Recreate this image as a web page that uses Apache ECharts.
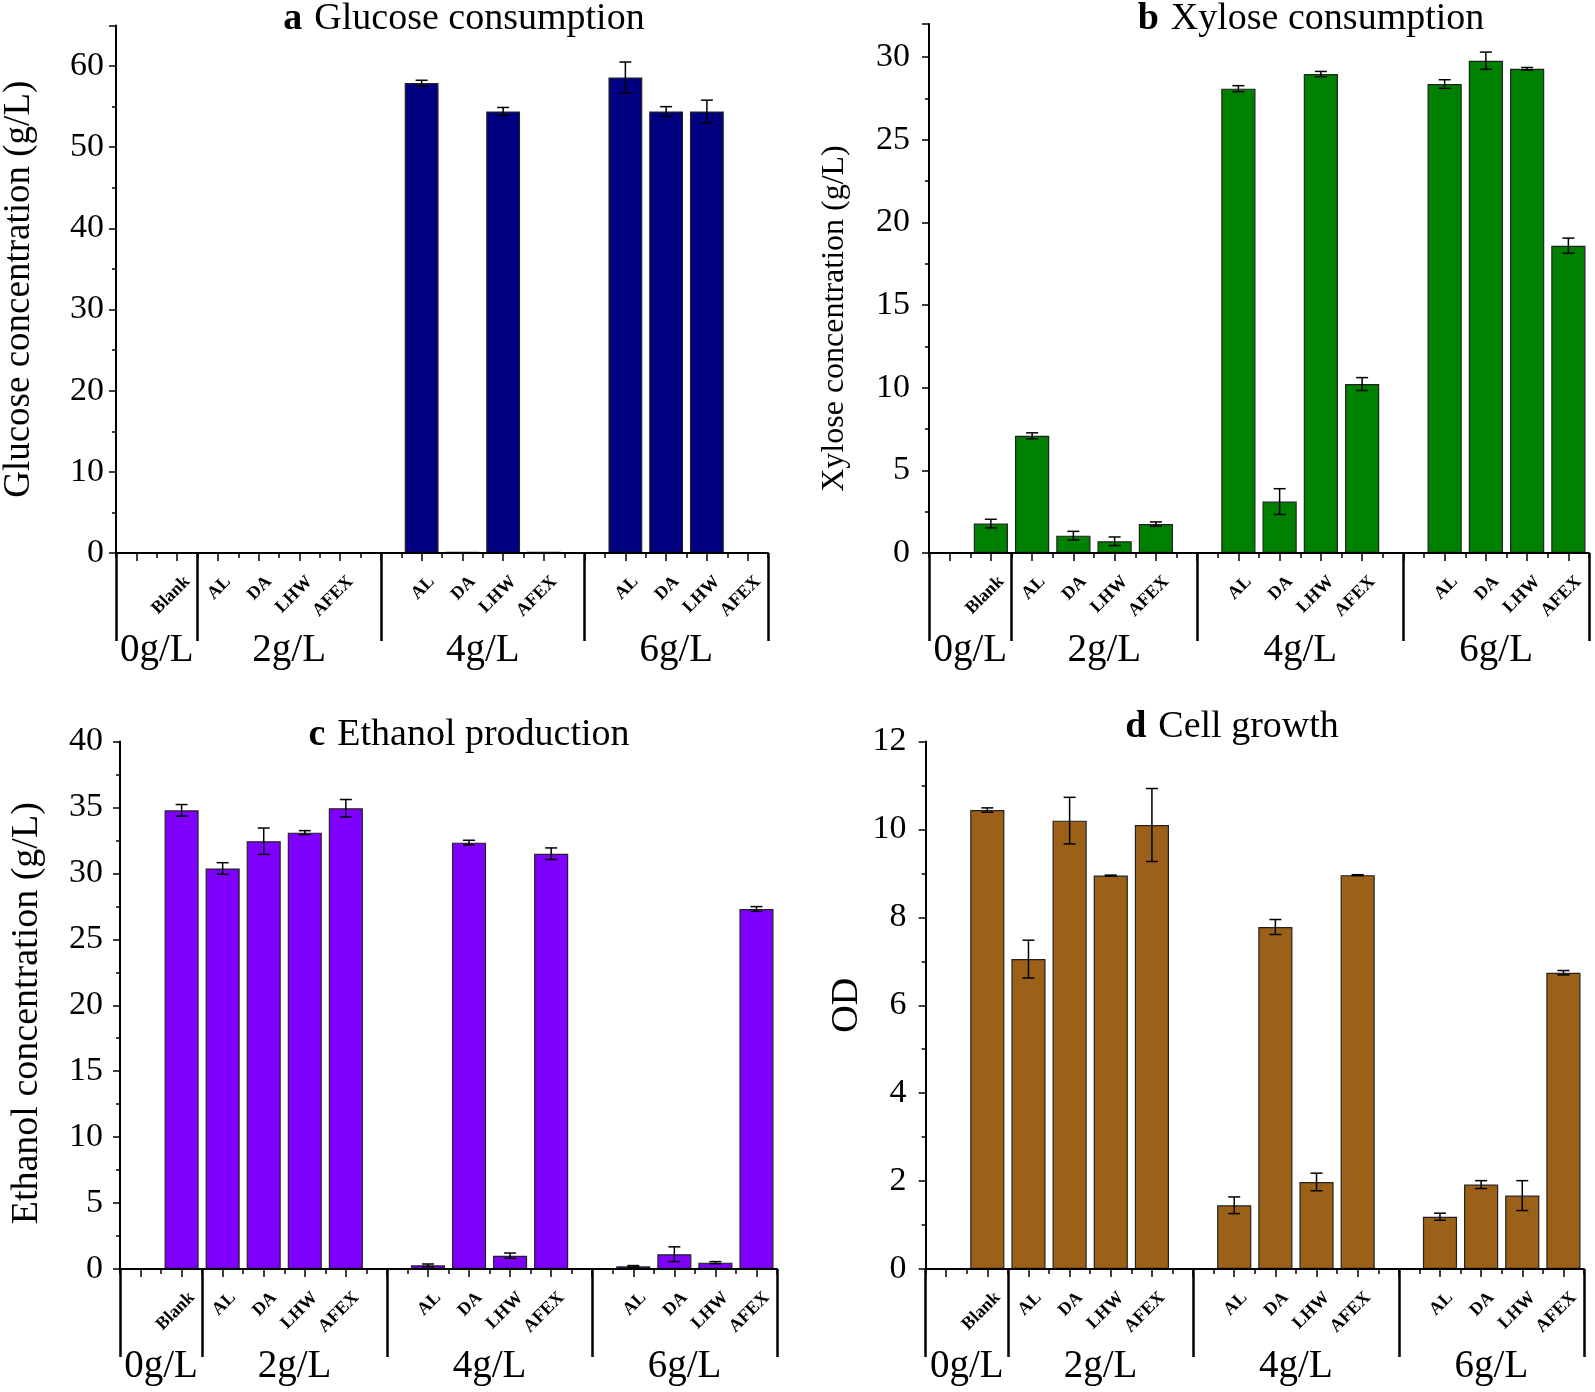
<!DOCTYPE html>
<html><head><meta charset="utf-8">
<script src="https://cdn.jsdelivr.net/npm/echarts@6/dist/echarts.min.js"></script>
<style>html,body{margin:0;padding:0;background:#fff}#c{width:1595px;height:1392px}</style>
</head><body><div id="c"></div>
<script>
// ---- data ----
const groupNames = ['0g/L', '2g/L', '4g/L', '6g/L'];
const groupTreatments = [['Blank'], ['AL', 'DA', 'LHW', 'AFEX'], ['AL', 'DA', 'LHW', 'AFEX'], ['AL', 'DA', 'LHW', 'AFEX']];
// order: Blank | 2g/L AL,DA,LHW,AFEX | 4g/L AL,DA,LHW,AFEX | 6g/L AL,DA,LHW,AFEX
const glucose    = [0,     0, 0, 0, 0,               57.9, 0.15, 54.4, 0.15,   58.6, 54.4, 54.4, 0];
const glucoseErr = [0,     0, 0, 0, 0,               0.35, 0, 0.5, 0,          1.9, 0.6, 1.4, 0];
const xylose     = [1.78,  7.09, 1.05, 0.71, 1.75,   28.09, 3.11, 28.97, 10.22, 28.37, 29.78, 29.29, 18.59];
const xyloseErr  = [0.26,  0.18, 0.26, 0.26, 0.13,   0.18, 0.78, 0.16, 0.39,   0.26, 0.52, 0.08, 0.46];
const ethanol    = [34.78, 30.37, 32.44, 33.09, 34.94, 0.28, 32.33, 1.01, 31.49, 0.2, 1.12, 0.48, 27.3];
const ethanolErr = [0.44,  0.44, 1.0, 0.15, 0.66,    0.1, 0.18, 0.2, 0.44,     0.06, 0.56, 0.08, 0.18];
const od         = [10.44, 7.05, 10.2, 8.95, 10.1,   1.45, 7.78, 1.98, 8.96,   1.19, 1.92, 1.67, 6.74];
const odErr      = [0.05,  0.43, 0.53, 0.01, 0.83,   0.19, 0.17, 0.2, 0.01,    0.08, 0.09, 0.34, 0.05];

// ---- slot structure (leading empty slot, gap slot before 4g/L and 6g/L) ----
const slots = [''];
const slotOfValue = [];
const groupFirst = [], groupLast = [];
groupTreatments.forEach((tr, g) => {
  if (g >= 2) slots.push('');
  groupFirst.push(slots.length);
  tr.forEach(t => { slotOfValue.push(slots.length); slots.push(t); });
  groupLast.push(slots.length - 1);
});
const separators = [0];
for (let g = 0; g < groupNames.length - 1; g++) separators.push((groupLast[g] + 1 + groupFirst[g + 1]) / 2);
separators.push(slots.length);
const groupCenters = groupNames.map((_, g) => (separators[g] + separators[g + 1]) / 2);
// rotated treatment labels: anchored a little right of each slot centre (Origin-style)
const LABEL_SHIFT = 0.25;
const labelAnchors = slotOfValue.map(s => s + 0.5 + LABEL_SHIFT);
const labelTexts = slotOfValue.map(s => slots[s]);

const F = '"Liberation Serif", "Times New Roman", serif';
const panels = [
  { key: 'a', title: 'Glucose consumption', yName: 'Glucose concentration (g/L)', vals: glucose, errs: glucoseErr,
    color: '#000080', max: 65, interval: 10, grid: { left: 114, top: 25.5, width: 654, height: 527.5 },
    titleX: 464, titleY: 0, nameGap: 78, nameSize: 37, nameShift: 0, labelMargin: 12 },
  { key: 'b', title: 'Xylose consumption', yName: 'Xylose concentration (g/L)', vals: xylose, errs: xyloseErr,
    color: '#008000', max: 32, interval: 5, grid: { left: 929, top: 24, width: 660, height: 529 },
    titleX: 1311, titleY: 0, nameGap: 78, nameSize: 32, nameShift: 30, labelMargin: 19 },
  { key: 'c', title: 'Ethanol production', yName: 'Ethanol concentration (g/L)', vals: ethanol, errs: ethanolErr,
    color: '#8000ff', max: 40, interval: 5, grid: { left: 120, top: 741.5, width: 657, height: 527.5 },
    titleX: 469, titleY: 716, nameGap: 74, nameSize: 38, nameShift: 8, labelMargin: 17 },
  { key: 'd', title: 'Cell growth', yName: 'OD', vals: od, errs: odErr,
    color: '#9c6119', max: 12, interval: 2, grid: { left: 925.6, top: 741.5, width: 658.4, height: 527.5 },
    titleX: 1232, titleY: 708, nameGap: 60, nameSize: 38, nameShift: 0, labelMargin: 19 }
];

const option = { animation: false, backgroundColor: '#fff', title: [], grid: [], xAxis: [], yAxis: [], series: [] };

panels.forEach((p, i) => {
  option.grid.push(Object.assign({ containLabel: false }, p.grid));
  option.title.push({
    text: '{b|' + p.key + '}{n|' + p.title + '}', left: p.titleX, top: p.titleY, textAlign: 'center', padding: 0,
    textStyle: { fontWeight: 'normal', rich: {
      b: { fontFamily: F, fontWeight: 'bold', fontSize: 38, color: '#000', padding: [0, 12, 0, 0] },
      n: { fontFamily: F, fontWeight: 'normal', fontSize: 38, color: '#000' } } }
  });
  // 0: category axis carrying the bars and centre ticks
  option.xAxis.push({
    type: 'category', gridIndex: i, data: slots, boundaryGap: true, position: 'bottom',
    axisLine: { show: true, onZero: false, lineStyle: { color: '#000', width: 2 } },
    axisTick: { show: true, alignWithLabel: true, length: 8, lineStyle: { color: '#000', width: 1.5 } },
    axisLabel: { show: false },
    splitLine: { show: false }, z: 5
  });
  // 1: minor ticks at slot boundaries
  option.xAxis.push({
    type: 'value', gridIndex: i, min: 0, max: slots.length, interval: 1, position: 'bottom',
    axisLine: { show: false, onZero: false },
    axisTick: { show: true, length: 5, lineStyle: { color: '#000', width: 1.5 } },
    axisLabel: { show: false }, splitLine: { show: false }
  });
  // 2: group separators + group names
  option.xAxis.push({
    type: 'value', gridIndex: i, min: 0, max: slots.length, position: 'bottom',
    axisLine: { show: false, onZero: false },
    axisTick: { show: true, customValues: separators, length: 88, lineStyle: { color: '#000', width: 2.5 } },
    axisLabel: { show: true, customValues: groupCenters, margin: 78, fontFamily: F, fontSize: 39, color: '#000',
      formatter: v => { const k = groupCenters.findIndex(c => Math.abs(c - v) < 1e-6); return k >= 0 ? groupNames[k] : ''; } },
    splitLine: { show: false }
  });
  // 3: rotated treatment names
  option.xAxis.push({
    type: 'value', gridIndex: i, min: 0, max: slots.length, position: 'bottom',
    axisLine: { show: false, onZero: false },
    axisTick: { show: false },
    axisLabel: { show: true, customValues: labelAnchors, rotate: 45, margin: 26, fontFamily: F, fontWeight: 'bold',
      fontSize: 18, color: '#000',
      formatter: v => { const k = labelAnchors.findIndex(c => Math.abs(c - v) < 1e-6); return k >= 0 ? labelTexts[k] : ''; } },
    splitLine: { show: false }
  });
  const pad = p.nameShift > 0 ? [0, 2 * p.nameShift, 0, 0] : [0, 0, 0, 0];
  option.yAxis.push({
    type: 'value', gridIndex: i, min: 0, max: p.max, interval: p.interval,
    name: p.yName, nameLocation: 'middle', nameGap: p.nameGap,
    nameTextStyle: { fontFamily: F, fontSize: p.nameSize, color: '#000', padding: pad },
    axisLine: { show: true, onZero: false, lineStyle: { color: '#000', width: 2 } },
    axisTick: { show: true, length: 7, lineStyle: { color: '#000', width: 1.5 } },
    minorTick: { show: true, splitNumber: 2, length: 4, lineStyle: { color: '#000', width: 1.5 } },
    axisLabel: { fontFamily: F, fontSize: 34, color: '#000', margin: p.labelMargin,
      formatter: v => { const r = v / p.interval; return Math.abs(r - Math.round(r)) < 1e-9 ? String(v) : ''; } },
    splitLine: { show: false }
  });
  const barData = slots.map(() => '-');
  slotOfValue.forEach((s, k) => { barData[s] = p.vals[k]; });
  option.series.push({
    type: 'bar', xAxisIndex: i * 4, yAxisIndex: i, data: barData, barCategoryGap: '17%',
    itemStyle: { color: p.color, borderColor: '#222', borderWidth: 1.2 }, z: 2
  });
  const errData = [];
  slotOfValue.forEach((s, k) => { if (p.errs[k] > 0) errData.push([s, p.vals[k] - p.errs[k], p.vals[k] + p.errs[k]]); });
  option.series.push({
    type: 'custom', xAxisIndex: i * 4, yAxisIndex: i, data: errData, encode: { x: 0, y: [1, 2] }, z: 3,
    renderItem: (params, api) => {
      const x = api.value(0);
      const lo = api.coord([x, api.value(1)]);
      const hi = api.coord([x, api.value(2)]);
      const w = 6;
      const st = { stroke: '#000', lineWidth: 1.5 };
      return { type: 'group', children: [
        { type: 'line', shape: { x1: hi[0], y1: hi[1], x2: lo[0], y2: lo[1] }, style: st },
        { type: 'line', shape: { x1: hi[0] - w, y1: hi[1], x2: hi[0] + w, y2: hi[1] }, style: st },
        { type: 'line', shape: { x1: lo[0] - w, y1: lo[1], x2: lo[0] + w, y2: lo[1] }, style: st }
      ] };
    }
  });
});

const chart = echarts.init(document.getElementById('c'), null, { renderer: 'canvas' });
chart.setOption(option);
</script>
</body></html>
